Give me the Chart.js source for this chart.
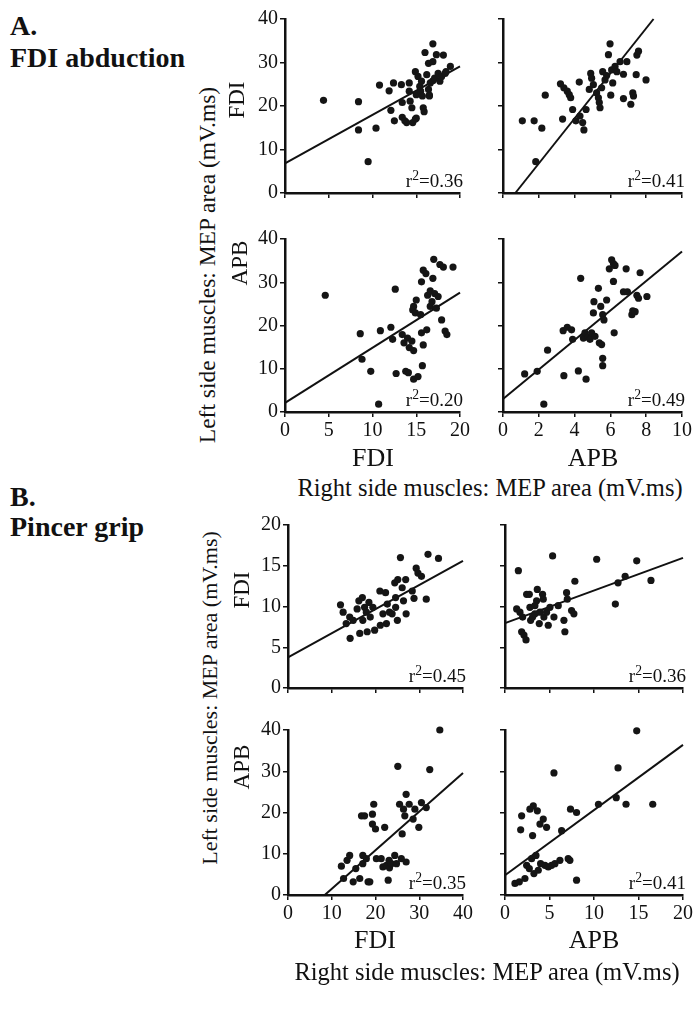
<!DOCTYPE html>
<html>
<head>
<meta charset="utf-8">
<script src="https://cdn.jsdelivr.net/npm/chart.js"></script>
<style>
  body { margin: 0; background: #fff; }
  #page { position: relative; width: 693px; height: 1014px; overflow: hidden; font-family: "Liberation Serif", "DejaVu Serif", serif; color: #111; }
  canvas { position: absolute; }
  .lbl { position: absolute; white-space: nowrap; line-height: 1; }
  sup { font-size: 0.72em; vertical-align: 0.5em; line-height: 0; }
</style>
</head>
<body>
<div id="page"></div>
<script>
// ---- A. FDI abduction ----
// left FDI vs right FDI
const abdTopLeftX = [4.4, 8.4, 8.4, 9.5, 10.4, 10.8, 11.9, 12.4, 12.1, 12.5, 13.3, 13.4, 13.4, 13.7, 13.9, 14.2, 14.2, 14.3, 14.5, 14.6, 14.9, 15.0, 14.9, 15.0, 15.2, 15.4, 15.5, 15.6, 15.7, 15.8, 15.9, 16.0, 16.2, 16.4, 16.5, 16.6, 16.4, 16.9, 16.9, 16.9, 17.1, 17.3, 17.5, 17.7, 17.9, 18.1, 18.3, 18.4, 18.9, 16.5];
const abdTopLeftY = [21.3, 21.0, 14.5, 7.2, 14.9, 24.8, 23.5, 25.3, 19.0, 16.6, 24.9, 20.8, 17.4, 16.6, 16.2, 25.3, 23.4, 21.1, 19.6, 16.2, 17.0, 17.2, 27.9, 22.6, 26.8, 24.5, 23.4, 25.7, 22.3, 19.6, 18.7, 32.3, 27.2, 23.8, 22.5, 25.3, 29.8, 34.3, 30.2, 25.8, 26.4, 31.8, 27.5, 25.7, 26.8, 31.7, 27.5, 27.9, 29.1, 22.3];
const abdTopLeftLine = [[0, 6.8], [20, 29.1]];

// left FDI vs right APB
const abdTopRightX = [1.08, 1.74, 1.83, 2.17, 2.36, 3.21, 3.33, 3.40, 3.59, 3.70, 3.78, 3.89, 4.07, 4.26, 4.30, 4.45, 4.52, 4.64, 4.82, 4.90, 4.95, 5.05, 5.23, 5.33, 5.38, 5.42, 5.51, 5.57, 5.70, 5.79, 5.89, 5.98, 6.07, 6.13, 6.26, 6.36, 6.54, 6.73, 6.73, 6.92, 7.14, 7.25, 7.29, 7.44, 7.48, 7.57, 7.99, 6.02];
const abdTopRightY = [16.6, 16.6, 7.2, 14.9, 22.5, 25.1, 17.0, 24.2, 23.4, 22.6, 21.9, 19.2, 16.6, 25.5, 17.7, 16.2, 14.5, 19.2, 23.8, 27.5, 26.4, 24.9, 23.0, 21.9, 20.8, 19.6, 24.2, 27.9, 26.0, 27.0, 31.8, 34.3, 28.3, 25.3, 29.1, 27.9, 30.2, 27.3, 21.7, 30.2, 20.4, 23.0, 22.3, 27.2, 31.7, 32.6, 26.0, 22.5];
const abdTopRightLine = [[0.69, 0], [8.41, 40]];

// left APB vs right FDI
const abdBottomLeftX = [4.6, 8.6, 8.8, 9.8, 10.9, 10.7, 12.1, 12.3, 12.6, 12.7, 13.4, 13.6, 13.8, 14.1, 14.0, 14.2, 14.5, 14.7, 14.7, 14.6, 14.7, 14.9, 15.2, 15.0, 15.5, 15.6, 15.7, 15.6, 15.8, 15.8, 16.1, 16.2, 16.3, 16.6, 16.6, 16.8, 16.9, 17.0, 17.1, 17.3, 17.5, 17.7, 17.9, 18.1, 18.3, 18.5, 19.2];
const abdBottomLeftY = [27.0, 18.1, 12.2, 9.4, 18.8, 1.8, 19.6, 16.8, 28.4, 8.9, 17.9, 16.0, 9.4, 9.1, 17.1, 14.9, 16.4, 14.2, 7.6, 23.6, 24.4, 22.9, 8.2, 25.9, 22.5, 18.3, 10.7, 30.1, 15.5, 32.8, 32.0, 19.0, 27.0, 24.4, 28.0, 25.5, 30.9, 35.3, 27.4, 24.0, 26.7, 34.1, 21.3, 33.5, 18.7, 17.9, 33.5];
const abdBottomLeftLine = [[0, 2.1], [20, 27.6]];

// left APB vs right APB
const abdBottomRightX = [1.21, 1.91, 2.28, 2.49, 3.40, 3.36, 3.59, 3.83, 3.89, 4.34, 4.21, 4.64, 4.49, 4.58, 4.77, 4.86, 4.95, 5.05, 5.08, 5.14, 5.33, 5.38, 5.46, 5.51, 5.57, 5.57, 5.57, 5.64, 5.79, 5.94, 6.07, 6.17, 6.17, 6.21, 6.26, 6.73, 6.88, 6.95, 7.20, 7.25, 7.38, 7.48, 7.57, 7.66, 8.04];
const abdBottomRightY = [8.8, 9.4, 1.8, 14.3, 8.4, 18.8, 19.6, 19.0, 16.8, 30.9, 9.5, 7.6, 17.1, 18.3, 17.3, 16.8, 18.3, 22.9, 25.5, 17.5, 28.6, 16.0, 24.4, 15.6, 22.5, 12.4, 10.7, 21.3, 25.9, 33.1, 35.2, 34.3, 30.2, 18.3, 33.9, 27.8, 33.1, 27.8, 22.5, 23.4, 23.2, 27.0, 26.3, 32.2, 26.7];
const abdBottomRightLine = [[0, 3.0], [10, 37.1]];

// ---- B. Pincer grip ----
const pinTopLeftX = [12.0, 12.6, 14.1, 14.2, 13.3, 14.9, 15.8, 16.2, 16.4, 17.0, 17.1, 17.5, 17.9, 18.1, 18.5, 18.8, 19.4, 19.8, 21.0, 21.1, 21.7, 22.3, 22.5, 22.7, 23.2, 23.8, 24.4, 24.6, 25.0, 25.1, 25.7, 26.1, 26.4, 26.9, 27.0, 28.4, 28.8, 29.3, 29.7, 30.5, 31.6, 32.0, 34.4, 24.6];
const pinTopLeftY = [10.2, 9.3, 8.7, 6.1, 7.9, 8.3, 9.7, 10.7, 6.7, 11.1, 8.3, 9.9, 9.3, 6.9, 10.5, 8.7, 9.9, 7.1, 11.9, 7.7, 9.1, 11.7, 7.9, 10.3, 9.3, 9.1, 12.9, 9.9, 8.3, 13.3, 16.0, 12.3, 10.7, 13.3, 9.1, 11.9, 11.0, 14.7, 14.1, 13.7, 10.9, 16.4, 15.9, 11.1];
const pinTopLeftLine = [[0, 3.76], [40, 15.6]];

const pinTopRightX = [1.50, 1.87, 2.13, 2.36, 1.31, 1.68, 1.98, 2.43, 2.73, 2.80, 2.88, 3.10, 3.36, 3.55, 3.63, 3.85, 3.93, 4.22, 4.30, 4.37, 4.67, 4.86, 5.05, 5.35, 5.50, 5.98, 6.62, 6.73, 6.92, 7.00, 7.48, 7.74, 7.85, 10.3, 12.4, 12.7, 13.5, 14.8, 16.4, 3.36];
const pinTopRightY = [14.4, 6.9, 6.5, 5.9, 9.7, 9.3, 8.7, 11.5, 11.5, 9.9, 8.3, 8.7, 9.1, 10.7, 12.1, 7.9, 9.3, 11.5, 10.9, 8.7, 9.3, 7.7, 9.9, 16.2, 8.7, 10.1, 8.3, 6.9, 11.7, 10.9, 9.5, 9.1, 13.1, 15.8, 10.3, 12.9, 13.7, 15.6, 13.2, 10.1];
const pinTopRightLine = [[0, 7.96], [20, 15.96]];

const pinBottomLeftX = [12.2, 12.7, 13.5, 14.1, 14.9, 15.5, 16.4, 16.8, 17.1, 17.1, 17.5, 17.9, 18.3, 18.7, 19.3, 19.6, 19.3, 20.0, 20.2, 21.3, 21.7, 22.1, 22.5, 22.9, 23.1, 23.2, 23.6, 24.4, 24.8, 25.1, 25.5, 25.9, 26.1, 26.4, 27.0, 27.0, 27.7, 28.6, 29.0, 29.9, 30.5, 31.6, 32.4, 34.7, 26.7];
const pinBottomLeftY = [7.0, 4.0, 8.4, 9.6, 3.2, 6.4, 4.0, 19.2, 9.6, 7.6, 19.2, 8.8, 3.2, 3.2, 19.6, 22.0, 17.2, 16.0, 8.8, 8.8, 6.8, 16.4, 7.2, 3.6, 8.4, 6.6, 7.6, 9.6, 7.6, 31.2, 22.0, 8.8, 14.8, 20.8, 8.0, 24.4, 22.0, 18.4, 20.8, 16.4, 22.4, 21.2, 30.4, 40.0, 19.2];
const pinBottomLeftLine = [[8.4, 0], [40, 29.6]];

const pinBottomRightX = [1.12, 1.61, 1.76, 1.87, 2.24, 2.43, 2.73, 2.80, 2.99, 3.10, 3.18, 3.25, 3.48, 3.63, 3.74, 3.93, 4.00, 4.30, 4.49, 4.67, 4.86, 5.23, 5.50, 5.61, 6.17, 6.36, 7.10, 7.36, 8.04, 8.04, 10.5, 12.5, 12.7, 13.6, 14.8, 16.6, 7.29];
const pinBottomRightY = [2.8, 3.2, 15.8, 19.2, 4.0, 7.2, 6.4, 20.8, 8.8, 14.4, 21.6, 5.2, 9.6, 20.4, 6.0, 17.2, 7.6, 18.4, 7.2, 16.4, 6.8, 7.2, 29.6, 7.6, 8.4, 15.6, 8.8, 20.8, 20.0, 3.6, 22.0, 23.6, 30.8, 22.0, 39.8, 22.0, 8.4];
const pinBottomRightLine = [[0, 4.8], [20, 36.4]];

const r2Labels = ['0.36', '0.41', '0.20', '0.49', '0.45', '0.36', '0.35', '0.41'];

const SERIF = '"Liberation Serif", "DejaVu Serif", serif';
const PADL = 46, PADR = 14, PADT = 12, PADB = 36;
const page = document.getElementById('page');

// plot area boxes of the eight panels
const panels = [
  { left: 285, top: 17,  w: 175, h: 176, xMax: 20, xStep: 5, yMax: 40, yStep: 10, xs: abdTopLeftX, ys: abdTopLeftY, line: abdTopLeftLine, xl: false, yl: true },
  { left: 503, top: 17,  w: 179, h: 176, xMax: 10, xStep: 2, yMax: 40, yStep: 10, xs: abdTopRightX, ys: abdTopRightY, line: abdTopRightLine, xl: false, yl: false },
  { left: 285, top: 237, w: 175, h: 175, xMax: 20, xStep: 5, yMax: 40, yStep: 10, xs: abdBottomLeftX, ys: abdBottomLeftY, line: abdBottomLeftLine, xl: true, yl: true },
  { left: 503, top: 237, w: 179, h: 175, xMax: 10, xStep: 2, yMax: 40, yStep: 10, xs: abdBottomRightX, ys: abdBottomRightY, line: abdBottomRightLine, xl: true, yl: false },
  { left: 288, top: 523, w: 175, h: 165, xMax: 40, xStep: 10, yMax: 20, yStep: 5, xs: pinTopLeftX, ys: pinTopLeftY, line: pinTopLeftLine, xl: false, yl: true },
  { left: 505, top: 523, w: 178, h: 165, xMax: 20, xStep: 5, yMax: 20, yStep: 5, xs: pinTopRightX, ys: pinTopRightY, line: pinTopRightLine, xl: false, yl: false },
  { left: 288, top: 728, w: 175, h: 167, xMax: 40, xStep: 10, yMax: 40, yStep: 10, xs: pinBottomLeftX, ys: pinBottomLeftY, line: pinBottomLeftLine, xl: true, yl: true },
  { left: 505, top: 728, w: 178, h: 167, xMax: 20, xStep: 5, yMax: 40, yStep: 10, xs: pinBottomRightX, ys: pinBottomRightY, line: pinBottomRightLine, xl: true, yl: false }
];

function axis(max, step, showLabels, isX) {
  return {
    type: 'linear',
    min: 0, max: max,
    afterFit: function (scale) {
      if (isX) scale.height = PADB; else scale.width = PADL;
    },
    ticks: {
      stepSize: step,
      color: '#111',
      padding: 2,
      font: { family: SERIF, size: 20 },
      callback: function (v) { return showLabels ? v : ''; }
    },
    grid: { drawOnChartArea: false, drawTicks: true, tickLength: 5, color: '#111', lineWidth: 1.5 },
    border: { display: true, color: '#111', width: 2.5 }
  };
}

panels.forEach(function (p, i) {
  const c = document.createElement('canvas');
  c.width = p.w + PADL + PADR;
  c.height = p.h + PADT + PADB;
  c.style.left = (p.left - PADL) + 'px';
  c.style.top = (p.top - PADT) + 'px';
  page.appendChild(c);

  const pts = p.xs.map(function (x, k) { return { x: x, y: p.ys[k] }; });
  new Chart(c.getContext('2d'), {
    type: 'scatter',
    data: {
      datasets: [
        { data: pts, backgroundColor: '#151515', borderWidth: 0, pointRadius: 3.6, clip: false },
        { data: p.line.map(function (d) { return { x: d[0], y: d[1] }; }), showLine: true, borderColor: '#111', borderWidth: 2, pointRadius: 0, clip: false }
      ]
    },
    options: {
      responsive: false,
      animation: false,
      devicePixelRatio: 1,
      layout: { padding: { top: PADT, right: PADR, left: 0, bottom: 0 } },
      plugins: { legend: { display: false }, tooltip: { enabled: false } },
      scales: {
        x: axis(p.xMax, p.xStep, p.xl, true),
        y: axis(p.yMax, p.yStep, p.yl, false)
      }
    }
  });

  // r-squared note in the lower right corner
  const r = document.createElement('div');
  r.className = 'lbl';
  r.style.font = '19px ' + SERIF;
  r.innerHTML = 'r<sup>2</sup>=' + r2Labels[i];
  r.style.right = (693 - (p.left + p.w + 3)) + 'px';
  r.style.top = (p.top + p.h - 23) + 'px';
  page.appendChild(r);
});

function label(text, x, y, font, opts) {
  opts = opts || {};
  const d = document.createElement('div');
  d.className = 'lbl';
  d.style.font = font;
  d.textContent = text;
  d.style.left = x + 'px';
  d.style.top = y + 'px';
  let t = opts.left ? 'translate(0,-50%)' : 'translate(-50%,-50%)';
  if (opts.rot) t += ' rotate(-90deg)';
  d.style.transform = t;
  page.appendChild(d);
}

const HEAD = 'bold 28px ' + SERIF;
label('A.', 10, 26, HEAD, { left: true });
label('FDI abduction', 10, 58, HEAD, { left: true });
label('B.', 10, 497, HEAD, { left: true });
label('Pincer grip', 10, 527, HEAD, { left: true });

label('Left side muscles: MEP area (mV.ms)', 207, 265, '23.5px ' + SERIF, { rot: true });
label('Left side muscles: MEP area (mV.ms)', 210, 698, '22px ' + SERIF, { rot: true });
label('FDI', 237, 100, '23px ' + SERIF, { rot: true });
label('APB', 240, 263, '23px ' + SERIF, { rot: true });
label('FDI', 242, 590, '23px ' + SERIF, { rot: true });
label('APB', 242, 767, '23px ' + SERIF, { rot: true });

label('FDI', 373, 458, '26px ' + SERIF);
label('APB', 593, 458, '26px ' + SERIF);
label('FDI', 375, 940, '26px ' + SERIF);
label('APB', 594, 940, '26px ' + SERIF);

label('Right side muscles: MEP area (mV.ms)', 490, 488, '24.5px ' + SERIF);
label('Right side muscles: MEP area (mV.ms)', 487, 972, '24.5px ' + SERIF);
</script>
</body>
</html>
